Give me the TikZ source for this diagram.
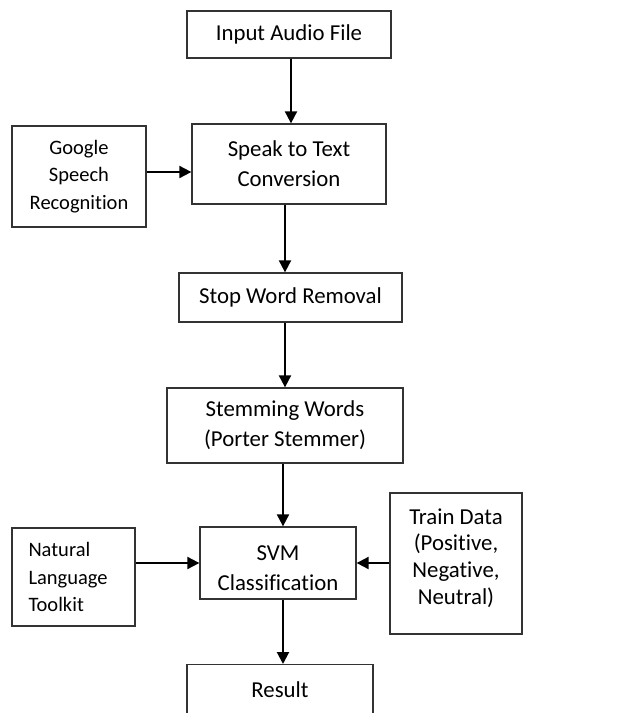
\documentclass[tikz,border=0pt]{standalone}
\usepackage{fontspec}
\setmainfont[Ligatures=NoCommon]{Carlito}
\usetikzlibrary{arrows.meta}
\tikzset{
  box/.style={draw=black!80, line width=1.3pt, inner sep=0pt, align=center,
    font=\fontsize{22.8}{30}\selectfont},
  side/.style={box, font=\fontsize{20.5}{27.6}\selectfont},
}
\begin{document}
\begin{tikzpicture}[x=1pt,y=-1pt]
      \useasboundingbox (0,0) rectangle (622,713);
      \clip (0,0) rectangle (622,713);
      \draw
        (289,34.5) node[box, minimum width=204pt, minimum height=47pt] (input){Input Audio File}
        (289,164) node[box, minimum width=194pt, minimum height=80pt] (speak){Speak to Text\\Conversion}
        (79,176.5) node[side, minimum width=134pt, minimum height=101pt] (google){Google\\Speech\\Recognition}
        (290.5,297.5) node[box, minimum width=223pt, minimum height=49pt] (stop){Stop Word Removal}
        (285,425.5) node[box, minimum width=236pt, minimum height=75pt] (stem){Stemming Words\\(Porter Stemmer)}
        (278,563) node[box, minimum width=156pt, minimum height=72pt, text width=150pt, align=flush center, text height=30pt, text depth=36pt] (svm){SVM\\Classification}
        (73.5,577) node[side, minimum width=123pt, minimum height=98pt, text width=90pt, align=left] (nlt){Natural\\Language\\Toolkit}
        (456,563.5) node[box, minimum width=132pt, minimum height=141pt, text width=126pt, align=flush center, text height=20pt, text depth=99pt, font=\fontsize{22.8}{26.7}\selectfont] (train){Train Data\\(Positive,\\Negative,\\Neutral)}
        (280,664) node[box, anchor=north, minimum width=186pt, minimum height=50pt] (result){Result};
      \begin{scope}[line width=2pt, -{Triangle[length=12pt,width=12pt]}]
        \draw ([xshift=2pt]input.south) to ([xshift=2pt]input.south |- speak.north);
        \draw (google.east |- 0,172) to (speak.west |- 0,172);
        \draw ([xshift=-4pt]speak.south) to ([xshift=-4pt]speak.south |- stop.north);
        \draw (stem |- stop.south) to (stem.north);
        \draw ([xshift=-2pt]stem.south) to ([xshift=-2pt]stem.south |- svm.north);
        \draw (nlt.east |- svm) to (svm.west);
        \draw (train.west |- svm) to (svm.east);
        \draw ([xshift=5pt]svm.south) to ([xshift=5pt]svm.south |- result.north);
      \end{scope}
    \end{tikzpicture}
\end{document}
